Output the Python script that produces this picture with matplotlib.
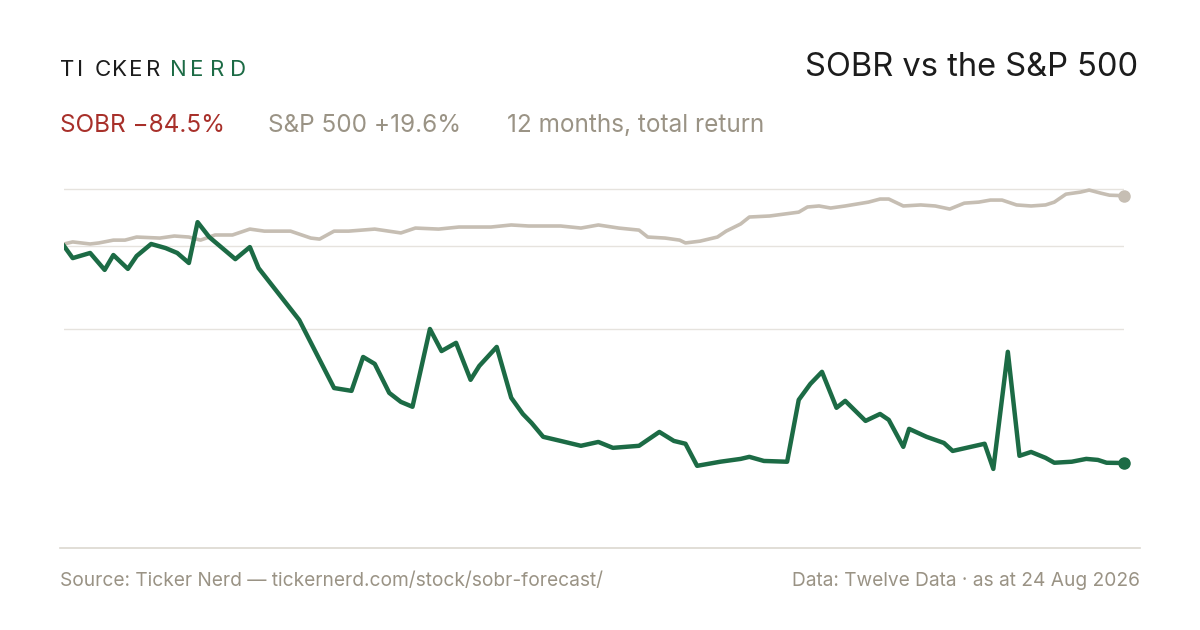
import matplotlib
matplotlib.use("Agg")
import matplotlib.pyplot as plt
from matplotlib.lines import Line2D

plt.rcParams['font.family'] = ['Inter', 'DejaVu Sans']

# ---------------------------------------------------------------------------
# data: day offset within the 12-month window, cumulative total return (%)
# ---------------------------------------------------------------------------
sobr_days = [0, 3, 9, 14, 17, 22, 25, 30, 35, 39, 43, 46, 50, 59, 64, 67, 81, 93, 99, 103,
             107, 112, 116, 120, 126, 130, 135, 140, 143, 149, 154, 158, 161, 165, 171, 178,
             184, 189, 198, 205, 210, 214, 218, 226, 233, 236, 241, 249, 253, 257, 261, 266,
             269, 276, 281, 284, 289, 291, 297, 303, 306, 317, 320, 325, 329, 333, 338, 341,
             347, 352, 356, 359, 365]
sobr_ret = [0, -4.7, -2.7, -9.3, -3.5, -8.9, -3.9, 0.8, -0.8, -2.7, -6.6, 9.3, 3.5, -5.1,
            -0.4, -8.6, -28.8, -55.3, -56.4, -43.2, -45.9, -57.2, -60.7, -62.6, -32.3, -40.9,
            -37.7, -52.1, -46.7, -39.3, -59.1, -65.4, -68.9, -74.3, -75.9, -77.8, -76.3, -78.6,
            -77.8, -72.4, -75.9, -77.0, -85.6, -84.0, -82.9, -82.1, -83.7, -84.0, -59.9, -53.7,
            -49.0, -63.0, -60.3, -68.1, -65.4, -67.7, -78.2, -71.2, -74.3, -76.7, -79.8, -77.0,
            -86.8, -41.2, -81.7, -80.2, -82.5, -84.4, -84.0, -82.9, -83.3, -84.4, -84.5]

spx_days = [0, 3, 9, 12, 17, 21, 25, 33, 38, 43, 47, 52, 58, 64, 69, 78, 85, 88, 93, 98,
            107, 116, 121, 129, 136, 147, 154, 160, 171, 178, 184, 191, 198, 201, 207, 212,
            214, 219, 225, 228, 233, 236, 243, 253, 256, 260, 264, 269, 277, 281, 284, 289,
            295, 300, 305, 310, 315, 319, 323, 328, 333, 338, 341, 345, 350, 353, 357, 360, 365]
spx_ret = [0.8, 1.6, 0.8, 1.2, 2.3, 2.3, 3.5, 3.1, 3.9, 3.5, 2.3, 4.3, 4.3, 6.6, 5.8, 5.8,
           3.1, 2.7, 5.8, 5.8, 6.6, 5.1, 7.0, 6.6, 7.4, 7.4, 8.2, 7.8, 7.8, 7.0, 8.2, 7.0,
           6.2, 3.5, 3.1, 2.3, 1.2, 1.9, 3.5, 5.8, 8.6, 11.3, 11.7, 13.2, 15.2, 15.6, 14.8,
           15.6, 17.1, 18.3, 18.3, 15.6, 16.0, 15.6, 14.4, 16.7, 17.1, 17.9, 17.9, 16.0, 15.6,
           16.0, 17.1, 20.2, 21.0, 21.8, 20.6, 19.8, 19.6]

grid_levels = [22.2, 0, -32.3]

GREEN = "#1c6b45"
SAND = "#c6beb3"
RED = "#a8302a"
MUTED = "#9a9385"
INK = "#1c1c1c"

fig = plt.figure(figsize=(12, 6.3), dpi=100, facecolor="white")
ax = fig.add_axes([64 / 1200, 1 - 548 / 630, 1060 / 1200, (548 - 169) / 630])
ax.set_xlim(0, 365)
ax.set_ylim(-117.6, 30)
ax.axis("off")

for g in grid_levels:
    ax.axhline(g, color="#e6e3de", linewidth=1, zorder=0)

ax.plot(spx_days, spx_ret, color=SAND, linewidth=2.6, solid_joinstyle="round", zorder=2)
ax.plot(sobr_days, sobr_ret, color=GREEN, linewidth=3.2, solid_joinstyle="round", zorder=3)
ax.plot(spx_days[-1], spx_ret[-1], "o", color=SAND, markersize=8, clip_on=False, zorder=4)
ax.plot(sobr_days[-1], sobr_ret[-1], "o", color=GREEN, markersize=8, clip_on=False, zorder=4)

# baseline under the plot
fig.add_artist(Line2D([60 / 1200, 1140 / 1200], [1 - 548 / 630] * 2,
                      color="#dcd8d0", linewidth=1.2))

# header: letter-spaced wordmark
for i, ch in enumerate("TICKER"):
    fig.text((60 + i * 17.2) / 1200, 1 - 70 / 630, ch, color=INK, fontsize=16, va="center")
for i, ch in enumerate("NERD"):
    fig.text((170 + i * 20) / 1200, 1 - 70 / 630, ch, color=GREEN, fontsize=16, va="center")
fig.text(1138 / 1200, 1 - 67 / 630, "SOBR vs the S&P 500", color=INK, fontsize=23.5,
         ha="right", va="center")

fig.text(60 / 1200, 1 - 125 / 630, "SOBR \u221284.5%", color=RED, fontsize=17.5, va="center")
fig.text(268 / 1200, 1 - 125 / 630, "S&P 500 +19.6%", color=MUTED, fontsize=17.5, va="center")
fig.text(507 / 1200, 1 - 125 / 630, "12 months, total return", color=MUTED, fontsize=17.5,
         va="center")

# footer
fig.text(60 / 1200, 1 - 581 / 630, "Source: Ticker Nerd \u2014 tickernerd.com/stock/sobr-forecast/",
         color=MUTED, fontsize=13.8, va="center")
fig.text(1140 / 1200, 1 - 581 / 630, "Data: Twelve Data \u00b7 as at 24 Aug 2026",
         color=MUTED, fontsize=13.8, ha="right", va="center")

fig.savefig("out.png", dpi=100, facecolor="white")
